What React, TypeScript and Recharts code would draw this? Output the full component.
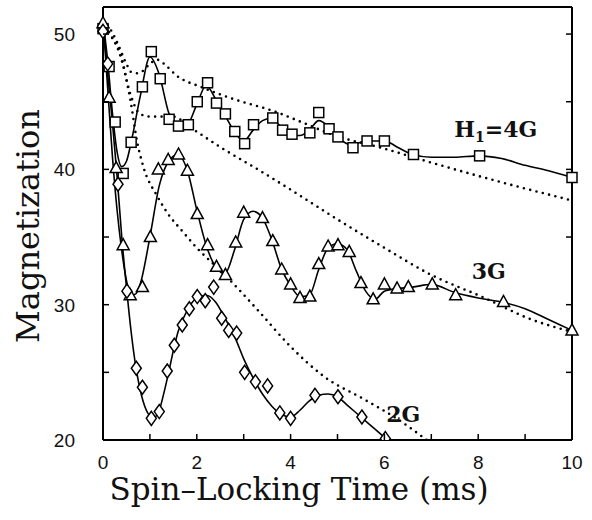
import React from "react";
import { ComposedChart, Line, Scatter, XAxis, YAxis, ReferenceDot } from "recharts";

// measured points (ms, magnetization)
const time4G = [0, 0.13, 0.26, 0.43, 0.6, 0.84, 1.03, 1.22, 1.41, 1.61, 1.82, 2.01, 2.23, 2.42, 2.61, 2.81, 3.02, 3.21, 3.62, 3.83, 4.03, 4.41, 4.6, 4.82, 5.01, 5.33, 5.63, 6.0, 6.62, 8.03, 10];
const mag4G = [50.4, 47.6, 43.5, 39.7, 42.0, 46.1, 48.7, 46.7, 43.7, 43.2, 43.3, 45.0, 46.4, 44.9, 44.1, 42.8, 41.9, 43.3, 43.8, 42.9, 42.6, 42.7, 44.2, 43.0, 42.4, 41.6, 42.1, 42.1, 41.1, 41.0, 39.4];

const time3G = [0, 0.13, 0.28, 0.43, 0.58, 0.84, 1.01, 1.18, 1.39, 1.61, 1.8, 2.01, 2.23, 2.42, 2.61, 2.83, 3.0, 3.4, 3.62, 3.81, 4.0, 4.2, 4.41, 4.6, 4.8, 5.01, 5.25, 5.5, 5.76, 6.0, 6.27, 6.51, 7.02, 7.52, 8.54, 10];
const mag3G = [50.8, 45.3, 40.1, 34.4, 30.7, 31.3, 35.0, 40.0, 40.7, 41.1, 39.9, 36.7, 34.4, 32.8, 32.2, 34.6, 36.8, 36.4, 34.7, 32.6, 31.5, 30.5, 30.6, 33.0, 34.3, 34.4, 33.9, 31.6, 30.4, 31.5, 31.2, 31.3, 31.5, 30.7, 30.2, 28.1];

const time2G = [0, 0.1, 0.32, 0.51, 0.71, 0.84, 1.03, 1.2, 1.37, 1.52, 1.69, 1.84, 2.01, 2.18, 2.36, 2.53, 2.68, 2.85, 3.02, 3.25, 3.51, 3.77, 4.0, 4.52, 5.01, 5.52, 6.02];
const mag2G = [50.2, 47.8, 38.9, 31.0, 25.3, 23.9, 21.6, 22.1, 25.1, 27.0, 28.5, 29.7, 30.6, 30.3, 31.3, 29.0, 28.1, 27.9, 25.0, 24.3, 24.0, 22.0, 21.6, 23.3, 23.2, 21.7, 20.1];

// fitted curves (solid)
const fitTime4G = [0, 0.1, 0.2, 0.3, 0.4, 0.5, 0.6, 0.8, 1.0, 1.2, 1.4, 1.6, 1.8, 2.0, 2.2, 2.4, 2.6, 2.8, 3.0, 3.2, 3.4, 3.6, 3.8, 4.0, 4.2, 4.4, 4.6, 4.8, 5.0, 5.3, 5.6, 6.0, 6.3, 6.6, 7.0, 7.5, 8.0, 8.5, 9.0, 9.5, 10];
const fitMag4G = [51, 48, 44.2, 41.3, 40.2, 40.6, 42, 45.5, 48.3, 47, 44.2, 43.1, 43.3, 44.8, 46.2, 45.2, 44, 42.8, 42.1, 42.9, 43.6, 43.8, 43.1, 42.5, 42.5, 42.9, 43.6, 43.2, 42.4, 41.8, 42.1, 42.1, 41.6, 41.1, 40.9, 40.9, 41.0, 40.8, 40.3, 39.9, 39.4];

const fitTime3G = [0, 0.1, 0.2, 0.3, 0.4, 0.5, 0.6, 0.7, 0.8, 1.0, 1.2, 1.4, 1.6, 1.8, 2.0, 2.2, 2.4, 2.6, 2.8, 3.0, 3.2, 3.4, 3.6, 3.8, 4.0, 4.2, 4.4, 4.6, 4.8, 5.0, 5.2, 5.4, 5.6, 5.8, 6.0, 6.3, 6.6, 7.0, 7.5, 8.0, 8.5, 9.0, 9.5, 10];
const fitMag3G = [51, 46, 41, 37, 34, 31.8, 30.7, 30.8, 31.6, 35, 38.8, 40.6, 41.1, 39.9, 37, 34.4, 32.8, 32.3, 34, 36.3, 36.9, 36.4, 34.8, 32.7, 31.4, 30.6, 30.7, 32.6, 34.2, 34.5, 34.1, 32.5, 31, 30.4, 31, 31.2, 31.3, 31.5, 30.9, 30.5, 30.2, 29.7, 28.9, 28.1];

const fitTime2G = [0, 0.1, 0.2, 0.3, 0.4, 0.5, 0.6, 0.7, 0.8, 0.9, 1.0, 1.1, 1.2, 1.3, 1.4, 1.5, 1.6, 1.8, 2.0, 2.2, 2.4, 2.6, 2.8, 3.0, 3.2, 3.4, 3.6, 3.8, 4.0, 4.2, 4.4, 4.6, 4.8, 5.0, 5.2, 5.5, 5.8, 6.0, 6.2];
const fitMag2G = [51, 47, 43.5, 39.5, 35, 31.3, 28, 25.4, 23.6, 22.4, 21.8, 21.7, 22.2, 23.5, 25, 26.6, 28, 29.6, 30.5, 30.7, 30.2, 29, 27.7, 26, 24.6, 23.4, 22.5, 21.9, 21.7, 22.2, 22.9, 23.3, 23.4, 23.2, 22.6, 21.7, 20.8, 20.2, 19.6];

// theory curves (dotted)
const thTime4G = [0, 0.15, 0.3, 0.5, 0.6, 0.75, 0.86, 1.0, 1.16, 1.3, 1.58, 2.08, 2.78, 3.64, 4.37, 4.86, 5.93, 7.0, 8.44, 10];
const thMag4G = [51, 50.4, 49.4, 47.8, 47.2, 47.1, 47.3, 47.8, 48.1, 47.8, 46.9, 46.1, 45.2, 44.3, 43.3, 42.6, 41.6, 40.5, 39.1, 37.7];

const thTime3G = [0, 0.15, 0.36, 0.58, 0.79, 1.0, 1.16, 1.5, 1.86, 2.57, 3.3, 4.0, 5.0, 6.0, 7.0, 8.07, 9.14, 10];
const thMag3G = [51, 50, 48.7, 45.6, 44.1, 43.9, 43.9, 43.9, 43.1, 41.5, 40.0, 38.5, 36.3, 34.2, 32.2, 30.6, 28.9, 28.0];

const thTime2G = [0, 0.15, 0.36, 0.58, 0.73, 0.86, 1.16, 1.43, 1.65, 2.0, 2.57, 3.3, 4.0, 4.71, 5.57, 6.3, 6.94];
const thMag2G = [51, 50, 48.5, 45.2, 42, 40.2, 38, 36.5, 35.6, 34.2, 32.3, 29.6, 26.9, 24.7, 23.0, 21.5, 19.9];

const xTicks = [0, 1, 2, 3, 4, 5, 6, 7, 8, 9, 10];
const yTicks = [20, 25, 30, 35, 40, 45, 50];

const pts = (xs: number[], ys: number[]) => xs.map((x, i) => ({ x, y: ys[i] }));

const TICK = 6;
const numFont = "'Liberation Sans', Arial, sans-serif";
const serif = "'DejaVu Serif', serif";

function BottomTick({ x, y, payload }: any) {
  const v = payload.value;
  return (
    <g>
      <line x1={x} y1={y} x2={x} y2={y - TICK} stroke="#000" strokeWidth={1.5} />
      {v % 2 === 0 && (
        <text x={x} y={y + 29} textAnchor="middle" fontFamily={numFont} fontSize={19} fill="#111">
          {v}
        </text>
      )}
    </g>
  );
}

function TopTick({ x, y }: any) {
  return <line x1={x} y1={y} x2={x} y2={y + TICK} stroke="#000" strokeWidth={1.5} />;
}

function LeftTick({ x, y, payload }: any) {
  const v = payload.value;
  return (
    <g>
      <line x1={x} y1={y} x2={x + TICK} y2={y} stroke="#000" strokeWidth={1.5} />
      {v % 10 === 0 && (
        <text x={x - 28} y={y + 7} textAnchor="end" fontFamily={numFont} fontSize={19} fill="#111">
          {v}
        </text>
      )}
    </g>
  );
}

function RightTick({ x, y }: any) {
  return <line x1={x} y1={y} x2={x - TICK} y2={y} stroke="#000" strokeWidth={1.5} />;
}

const Square = ({ cx, cy }: any) => (
  <rect x={cx - 5} y={cy - 5} width={10} height={10} fill="#fff" stroke="#000" strokeWidth={1.5} />
);
const Triangle = ({ cx, cy }: any) => (
  <polygon points={`${cx},${cy - 6.5} ${cx - 6},${cy + 4.5} ${cx + 6},${cy + 4.5}`} fill="#fff" stroke="#000" strokeWidth={1.5} />
);
const Diamond = ({ cx, cy }: any) => (
  <polygon points={`${cx},${cy - 7} ${cx + 5},${cy} ${cx},${cy + 7} ${cx - 5},${cy}`} fill="#fff" stroke="#000" strokeWidth={1.5} />
);

function SeriesLabel({ viewBox, text, sub }: any) {
  const { x, y } = viewBox;
  return (
    <text x={x} y={y} fontFamily={serif} fontWeight="bold" fontSize={22} fill="#111">
      {sub ? (
        <>
          H<tspan fontSize={14} dy={5}>1</tspan>
          <tspan dy={-5}>=4G</tspan>
        </>
      ) : (
        text
      )}
    </text>
  );
}

const dotted = { stroke: "#000", strokeWidth: 2.6, strokeDasharray: "0 6.5", strokeLinecap: "round" as const };

export default function App() {
  return (
    <div style={{ position: "relative", width: 592, height: 520, background: "#fff" }}>
      <style>{`body{margin:0}`}</style>
      <ComposedChart width={592} height={520} margin={{ top: 0, right: 0, bottom: 0, left: 0 }}>
        <XAxis
          xAxisId="b"
          dataKey="x"
          type="number"
          domain={[0, 10]}
          ticks={xTicks}
          interval={0}
          height={80}
          tickSize={0}
          tickMargin={0}
          tick={<BottomTick />}
          axisLine={{ stroke: "#000", strokeWidth: 2 }}
          label={() => (
            <text x={299} y={500} textAnchor="middle" fontFamily={serif} fontSize={31} fill="#111">
              Spin–Locking Time (ms)
            </text>
          )}
        />
        <XAxis
          xAxisId="t"
          orientation="top"
          dataKey="x"
          type="number"
          domain={[0, 10]}
          ticks={xTicks}
          interval={0}
          height={7}
          tickSize={0}
          tickMargin={0}
          tick={<TopTick />}
          axisLine={{ stroke: "#000", strokeWidth: 2 }}
        />
        <YAxis
          yAxisId="l"
          type="number"
          domain={[20, 52]}
          allowDataOverflow
          ticks={yTicks}
          interval={0}
          width={103}
          tickSize={0}
          tickMargin={0}
          tick={<LeftTick />}
          axisLine={{ stroke: "#000", strokeWidth: 2 }}
          label={() => (
            <text x={39} y={226} transform="rotate(-90 39 226)" textAnchor="middle" fontFamily={serif} fontSize={32} fill="#111">
              Magnetization
            </text>
          )}
        />
        <YAxis
          yAxisId="r"
          orientation="right"
          type="number"
          domain={[20, 52]}
          allowDataOverflow
          ticks={yTicks}
          interval={0}
          width={20}
          tickSize={0}
          tickMargin={0}
          tick={<RightTick />}
          axisLine={{ stroke: "#000", strokeWidth: 2 }}
        />

        <Line xAxisId="b" yAxisId="l" data={pts(thTime4G, thMag4G)} dataKey="y" type="monotone" dot={false} {...dotted} isAnimationActive={false} />
        <Line xAxisId="b" yAxisId="l" data={pts(thTime3G, thMag3G)} dataKey="y" type="monotone" dot={false} {...dotted} isAnimationActive={false} />
        <Line xAxisId="b" yAxisId="l" data={pts(thTime2G, thMag2G)} dataKey="y" type="monotone" dot={false} {...dotted} isAnimationActive={false} />

        <Line xAxisId="b" yAxisId="l" data={pts(fitTime4G, fitMag4G)} dataKey="y" type="monotone" dot={false} stroke="#000" strokeWidth={1.6} isAnimationActive={false} />
        <Line xAxisId="b" yAxisId="l" data={pts(fitTime3G, fitMag3G)} dataKey="y" type="monotone" dot={false} stroke="#000" strokeWidth={1.6} isAnimationActive={false} />
        <Line xAxisId="b" yAxisId="l" data={pts(fitTime2G, fitMag2G)} dataKey="y" type="monotone" dot={false} stroke="#000" strokeWidth={1.6} isAnimationActive={false} />

        <Scatter xAxisId="b" yAxisId="l" data={pts(time4G, mag4G)} dataKey="y" shape={Square} isAnimationActive={false} />
        <Scatter xAxisId="b" yAxisId="l" data={pts(time3G, mag3G)} dataKey="y" shape={Triangle} isAnimationActive={false} />
        <Scatter xAxisId="b" yAxisId="l" data={pts(time2G, mag2G)} dataKey="y" shape={Diamond} isAnimationActive={false} />

        <ReferenceDot xAxisId="b" yAxisId="l" x={7.49} y={42.4} r={0} stroke="none" fill="none" label={(p: any) => <SeriesLabel {...p} sub />} />
        <ReferenceDot xAxisId="b" yAxisId="l" x={7.86} y={31.9} r={0} stroke="none" fill="none" label={(p: any) => <SeriesLabel {...p} text="3G" />} />
        <ReferenceDot xAxisId="b" yAxisId="l" x={6.04} y={21.3} r={0} stroke="none" fill="none" label={(p: any) => <SeriesLabel {...p} text="2G" />} />
      </ComposedChart>
    </div>
  );
}
